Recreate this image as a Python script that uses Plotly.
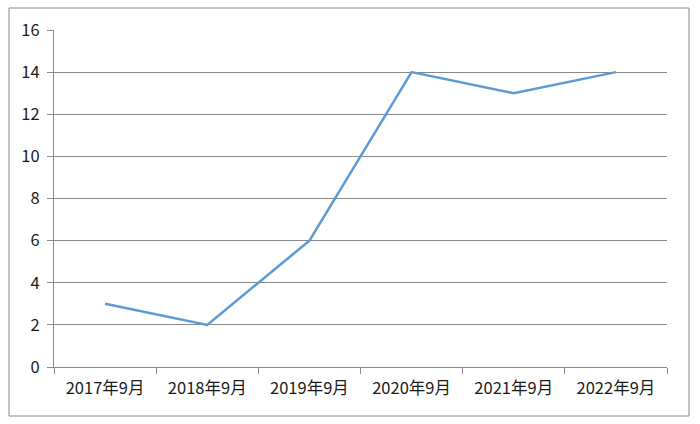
import plotly.graph_objects as go

categories = ["2017年9月", "2018年9月", "2019年9月", "2020年9月", "2021年9月", "2022年9月"]
values = [3, 2, 6, 14, 13, 14]
y_ticks = [0, 2, 4, 6, 8, 10, 12, 14, 16]

L, R, T, B = 54, 33, 30, 57
W, H = 700, 424
pw, ph = W - L - R, H - T - B

fig = go.Figure(go.Scatter(
    x=categories, y=values, mode="lines",
    line=dict(color="#5B9BD5", width=2.5),
))

fig.update_layout(
    width=W, height=H,
    margin=dict(l=L, r=R, t=T, b=B),
    paper_bgcolor="white", plot_bgcolor="white",
    showlegend=False,
    font=dict(family="Noto Sans CJK SC, Noto Sans, sans-serif", size=16.5, color="#1a1a1a"),
    xaxis=dict(
        type="category", range=[-0.5, 5.5],
        showgrid=False, showline=True, linecolor="#888888", linewidth=1,
        ticks="outside", tickson="boundaries", ticklen=6, tickcolor="#888888",
        ticklabelstandoff=6,
    ),
    yaxis=dict(
        range=[0, 16], tickvals=y_ticks,
        showgrid=True, gridcolor="#888888", gridwidth=1,
        showline=True, linecolor="#888888", linewidth=1,
        ticks="outside", ticklen=6, tickcolor="#888888",
        zeroline=False, ticklabelstandoff=4,
    ),
    shapes=[dict(
        type="rect", xref="paper", yref="paper",
        x0=(9 - L) / pw, x1=(689 - L) / pw,
        y0=(H - B - 416) / ph, y1=(H - B - 8) / ph,
        line=dict(color="#888888", width=1), layer="below",
    )],
)

fig.write_html("out.html")
